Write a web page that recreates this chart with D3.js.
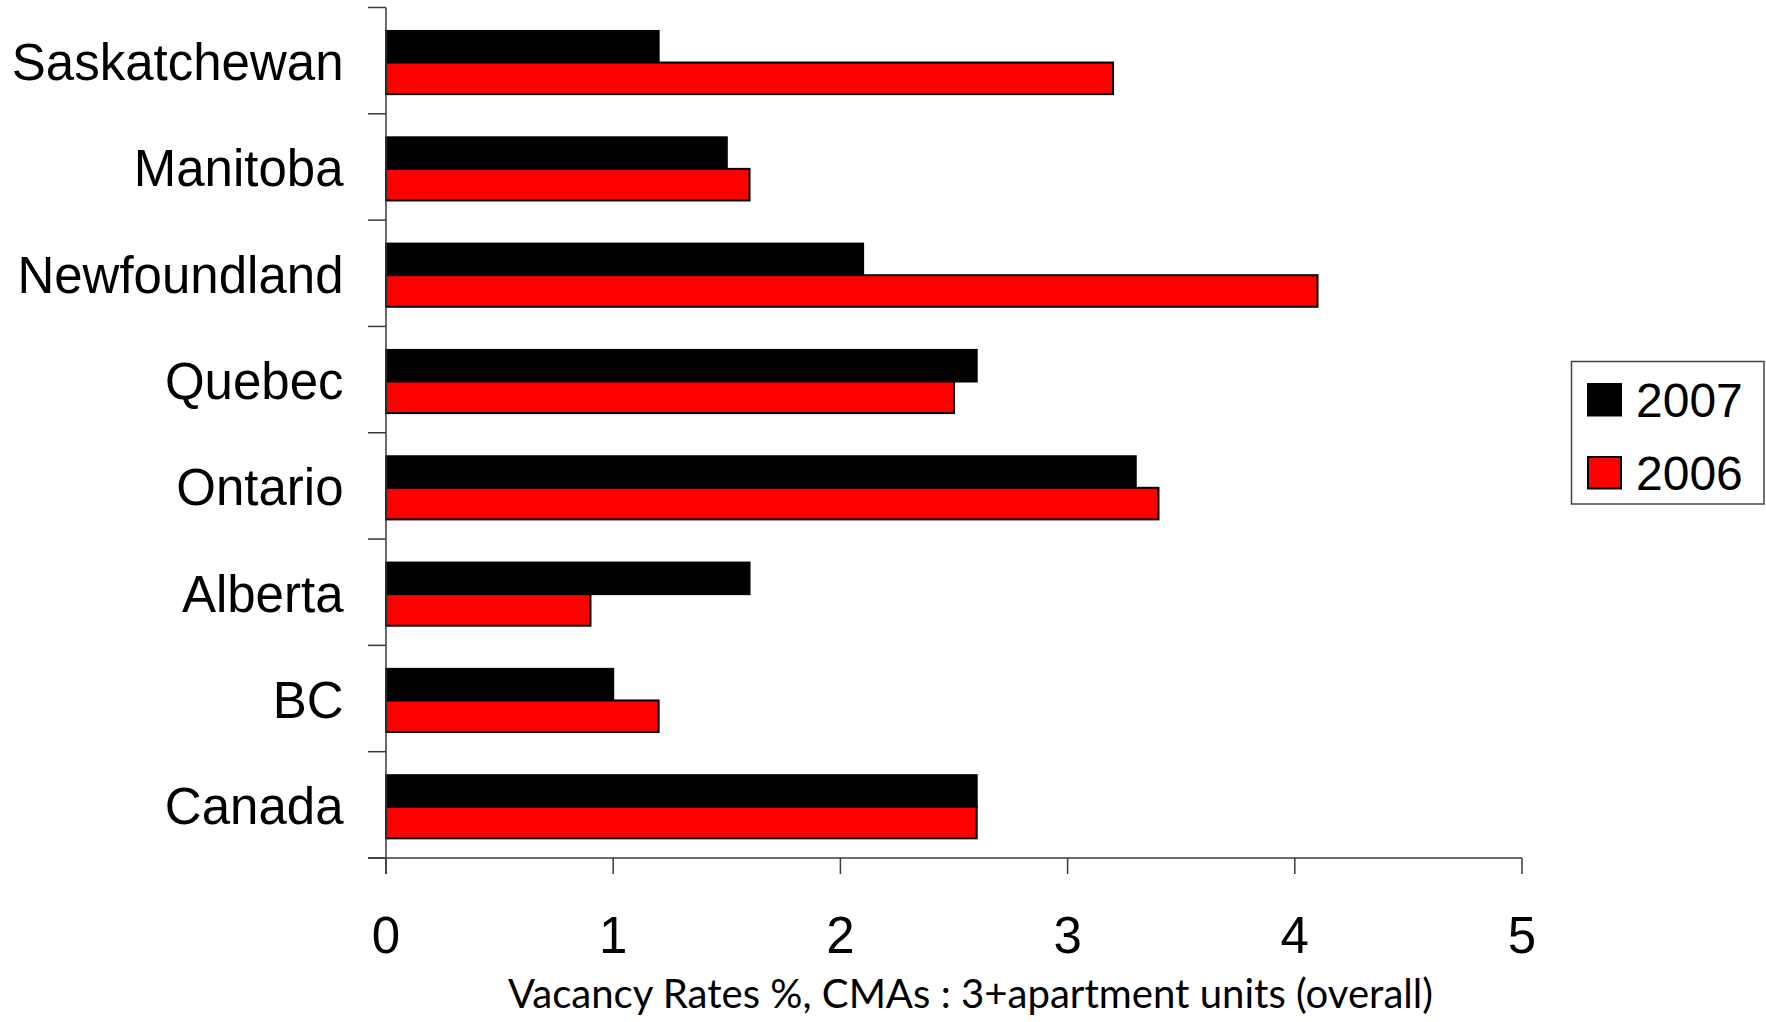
<!DOCTYPE html>
<html>
<head>
<meta charset="utf-8">
<script src="https://cdn.jsdelivr.net/npm/d3@7"></script>
<style>
  html, body { margin: 0; padding: 0; background: #fff; }
  svg { display: block; }
</style>
</head>
<body>
<svg id="chart" width="1766" height="1022"></svg>
<script>
// ---- Data ----
const categories = ["Saskatchewan", "Manitoba", "Newfoundland", "Quebec", "Ontario", "Alberta", "BC", "Canada"];
const values2007 = [1.2, 1.5, 2.1, 2.6, 3.3, 1.6, 1.0, 2.6];
const values2006 = [3.2, 1.6, 4.1, 2.5, 3.4, 0.9, 1.2, 2.6];
const seriesNames = ["2007", "2006"];
const seriesColors = ["#000000", "#ff0000"];
const xTicks = [0, 1, 2, 3, 4, 5];
const xTitle = "Vacancy Rates %, CMAs : 3+apartment units (overall)";

(function () {
// ---- Layout ----
const svg = d3.select("#chart");
const pLeft = 386, pRight = 1522, pTop = 7.5, pBottom = 858;
const axisColor = "#3a3a3a";

const x = d3.scaleLinear().domain([0, 5]).range([pLeft, pRight]);
const y = d3.scaleBand().domain(categories).range([pTop, pBottom]);
const bw = y.bandwidth();
const barH = bw * 0.297;
const barOff = bw * 0.221;

// bars
const series = [values2007, values2006];
series.forEach((vals, si) => {
  svg.append("g").selectAll("rect").data(categories).enter().append("rect")
    .attr("x", x(0))
    .attr("y", (d) => y(d) + barOff + si * barH)
    .attr("width", (d, i) => x(vals[i]) - x(0))
    .attr("height", barH)
    .attr("fill", seriesColors[si])
    .attr("stroke", "#000")
    .attr("stroke-width", 2);
});

// y axis
svg.append("line").attr("x1", pLeft).attr("x2", pLeft).attr("y1", pTop).attr("y2", pBottom + 16)
  .attr("stroke", axisColor).attr("stroke-width", 1.5);
const yTickPos = categories.map(c => y(c)).concat([pBottom]);
svg.append("g").selectAll("line").data(yTickPos).enter().append("line")
  .attr("x1", pLeft - 18).attr("x2", pLeft).attr("y1", d => d).attr("y2", d => d)
  .attr("stroke", axisColor).attr("stroke-width", 1.5);

// x axis
svg.append("line").attr("x1", pLeft - 18).attr("x2", pRight).attr("y1", pBottom).attr("y2", pBottom)
  .attr("stroke", axisColor).attr("stroke-width", 1.5);
svg.append("g").selectAll("line").data(xTicks).enter().append("line")
  .attr("x1", d => x(d)).attr("x2", d => x(d)).attr("y1", pBottom).attr("y2", pBottom + 16)
  .attr("stroke", axisColor).attr("stroke-width", 1.5);
svg.append("g").selectAll("text").data(xTicks).enter().append("text")
  .attr("x", d => x(d)).attr("y", 953)
  .attr("text-anchor", "middle")
  .attr("font-family", "Liberation Sans, Arial, sans-serif")
  .attr("font-size", 51)
  .attr("fill", "#000")
  .text(d => d);

// category labels
svg.append("g").selectAll("text").data(categories).enter().append("text")
  .attr("x", 343.5).attr("y", d => y(d) + bw / 2 + 19.5)
  .attr("text-anchor", "end")
  .attr("font-family", "Liberation Sans, Arial, sans-serif")
  .attr("font-size", 51)
  .attr("fill", "#000")
  .text(d => d);

// x title
const t = svg.append("text")
  .attr("x", 508).attr("y", 1008)
  .attr("font-family", "Lato, 'Open Sans', sans-serif")
  .attr("font-size", 38)
  .attr("fill", "#000")
  .text(xTitle);
const w = t.node().getComputedTextLength();
t.attr("font-size", 38 * 925 / w);

// legend
svg.append("rect").attr("x", 1571.5).attr("y", 361.5).attr("width", 192.5).attr("height", 142.5)
  .attr("fill", "#fff").attr("stroke", "#444").attr("stroke-width", 1.5);
const legY = [384, 457];
seriesNames.forEach((name, i) => {
  svg.append("rect").attr("x", 1588).attr("y", legY[i]).attr("width", 33).attr("height", 31.5)
    .attr("fill", seriesColors[i]).attr("stroke", "#000").attr("stroke-width", 2);
  svg.append("text").attr("x", 1636).attr("y", legY[i] + 33)
    .attr("font-family", "Liberation Sans, Arial, sans-serif")
    .attr("font-size", 48)
    .attr("fill", "#000")
    .text(name);
});
})();
</script>
</body>
</html>
